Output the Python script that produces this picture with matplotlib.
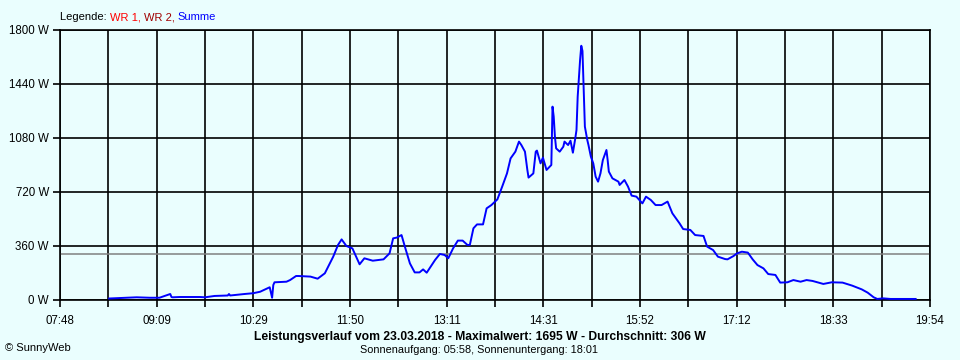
import matplotlib
matplotlib.use("Agg")
import matplotlib.pyplot as plt
import numpy as np

plt.rcParams["font.family"] = ["Liberation Sans", "DejaVu Sans"]

# ---- data ----
times = ["08:29", "08:52", "09:03", "09:11", "09:20", "09:21", "09:22", "09:28", "09:45", "09:49",
         "09:57", "10:08", "10:09", "10:10", "10:22", "10:29", "10:35", "10:41", "10:43", "10:45",
         "10:46", "10:47", "10:57", "11:00", "11:05", "11:07", "11:17", "11:23", "11:29", "11:36",
         "11:40", "11:43", "11:47", "11:52", "11:58", "12:02", "12:09", "12:18", "12:23", "12:26",
         "12:29", "12:33", "12:36", "12:40", "12:44", "12:48", "12:51", "12:54", "13:01", "13:05",
         "13:09", "13:12", "13:16", "13:20", "13:24", "13:28", "13:30", "13:33", "13:36", "13:41",
         "13:44", "13:48", "13:53", "13:57", "14:01", "14:04", "14:08", "14:11", "14:13", "14:16",
         "14:18", "14:19", "14:23", "14:25", "14:26", "14:29", "14:31", "14:34", "14:36", "14:38",
         "14:39", "14:40", "14:41", "14:42", "14:45", "14:48", "14:49", "14:52", "14:54", "14:56",
         "14:58", "14:59", "15:00", "15:02", "15:03", "15:04", "15:05", "15:06", "15:08", "15:09",
         "15:11", "15:13", "15:15", "15:17", "15:19", "15:21", "15:24", "15:25", "15:26", "15:29",
         "15:34", "15:35", "15:39", "15:42", "15:45", "15:49", "15:54", "15:57", "16:01", "16:05",
         "16:10", "16:15", "16:19", "16:23", "16:25", "16:28", "16:34", "16:38", "16:45", "16:48",
         "16:53", "16:57", "17:03", "17:05", "17:10", "17:13", "17:17", "17:22", "17:26", "17:30",
         "17:35", "17:39", "17:45", "17:49", "17:55", "18:00", "18:06", "18:11", "18:16", "18:25",
         "18:32", "18:41", "18:49", "18:57", "19:02", "19:07", "19:10", "19:15", "19:21", "19:42"]
summe = [10, 18, 15, 15, 40, 20, 18, 20, 20, 18,
         27, 30, 40, 30, 40, 45, 55, 78, 85, 15,
         100, 118, 122, 133, 160, 160, 156, 142, 178, 289,
         367, 404, 360, 344, 238, 278, 262, 271, 311, 411,
         416, 433, 350, 244, 184, 184, 204, 182, 267, 307,
         300, 278, 344, 396, 396, 367, 367, 478, 504, 504,
         611, 633, 671, 756, 844, 944, 989, 1056, 1033, 989,
         867, 816, 844, 989, 996, 911, 949, 867, 884, 900,
         1289, 1222, 1089, 1011, 989, 1022, 1056, 1033, 1062, 982,
         1078, 1133, 1356, 1600, 1695, 1660, 1400, 1156, 1067, 1033,
         956, 911, 822, 789, 844, 933, 1000, 933, 856, 811,
         789, 767, 800, 756, 696, 689, 644, 689, 667, 633,
         633, 656, 578, 533, 511, 473, 467, 433, 427, 356,
         333, 289, 273, 271, 293, 311, 322, 316, 271, 233,
         211, 173, 167, 116, 118, 133, 122, 133, 127, 107,
         118, 116, 96, 71, 49, 18, 7, 11, 7, 7]
average = 306
x_labels = ["07:48", "09:09", "10:29", "11:50", "13:11", "14:31", "15:52", "17:12", "18:33", "19:54"]
y_labels = ["0 W", "360 W", "720 W", "1080 W", "1440 W", "1800 W"]
y_values = [0, 360, 720, 1080, 1440, 1800]

def to_min(s):
    h, m = s.split(":")
    return int(h) * 60 + int(m)

t = np.array([to_min(s) for s in times])
x0 = to_min(x_labels[0])
x1 = to_min(x_labels[-1])

BG = "#EAFEFE"
fig = plt.figure(figsize=(9.6, 3.6), dpi=100, facecolor=BG)
ax = fig.add_axes([60 / 960, 60 / 360, 870 / 960, 270 / 360])
ax.set_facecolor(BG)

step = (x1 - x0) / 18
vgrid = [x0 + i * step for i in range(19)]
for v in vgrid:
    ax.axvline(v, color="black", lw=1.2, zorder=1)
for yv in y_values:
    ax.axhline(yv, color="black", lw=1.2, zorder=1)
ax.axhline(average, color="#808080", lw=1.1, zorder=2)

ax.plot(t, summe, color="#0000FF", lw=1.4, zorder=3)

ax.set_xlim(x0, x1)
ax.set_ylim(0, 1800)
ax.set_xticks(vgrid)
ax.set_xticklabels([x_labels[i // 2] if i % 2 == 0 else "" for i in range(19)])
ax.set_yticks(y_values)
ax.set_yticklabels(y_labels)
ax.tick_params(axis="both", direction="out", length=5, width=1.2, color="black",
               labelsize=8.3, pad=3)
ax.tick_params(axis="x", pad=6)
for sp in ax.spines.values():
    sp.set_color("black")
    sp.set_linewidth(1.2)

# legend line at top
fs = 8
xs = 60 / 960
yl = 1 - 17 / 360
parts = [("Legende: ", "black"), ("WR 1, ", "#FF0000"), ("WR 2, ", "#A00000"), ("Summe", "#0000FF")]
renderer = fig.canvas.get_renderer()
cx = xs
for txt, col in parts:
    tt = fig.text(cx, yl, txt, color=col, fontsize=fs, va="center", ha="left")
    bb = tt.get_window_extent(renderer=renderer)
    cx += bb.width / 960

fig.text(480 / 960, 1 - 337 / 360,
         "Leistungsverlauf vom 23.03.2018 - Maximalwert: 1695 W - Durchschnitt: 306 W",
         ha="center", va="center", fontsize=8.7, fontweight="bold", color="black")
fig.text(479 / 960, 1 - 350 / 360, "Sonnenaufgang: 05:58, Sonnenuntergang: 18:01",
         ha="center", va="center", fontsize=7.8, color="black")
fig.text(5 / 960, 1 - 348 / 360, "\u00a9 SunnyWeb", ha="left", va="center", fontsize=8, color="black")

fig.savefig("out.png", dpi=100, facecolor=BG)
